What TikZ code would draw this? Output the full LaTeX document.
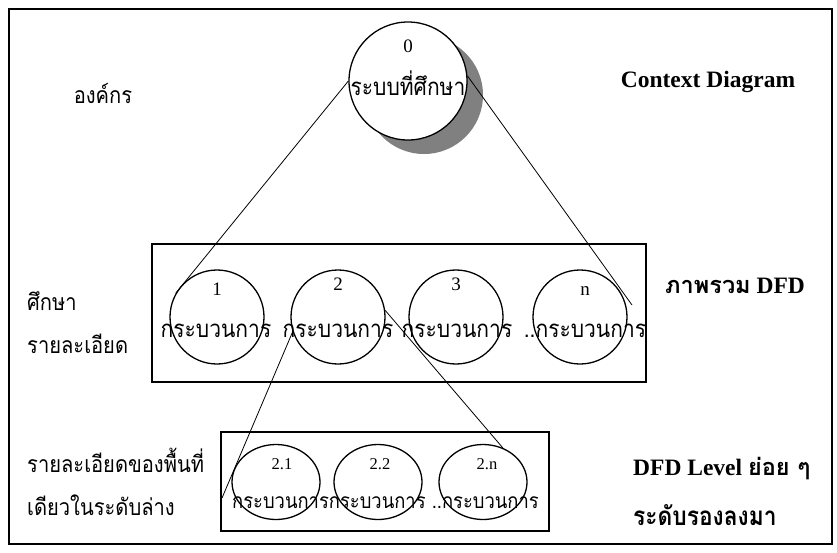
\documentclass[tikz,border=0pt]{standalone}
\usepackage{fontspec}
\setmainfont{Liberation Serif}
\newfontfamily\thai[Script=Thai, FakeStretch=0.875]{Loma}
\newfontfamily\thaiwide[Script=Thai]{Loma}
\usetikzlibrary{shapes.geometric,calc}
\definecolor{shade}{RGB}{128,128,128}
\begin{document}
\begin{tikzpicture}[x=1pt,y=-1pt,
  frame/.style={draw, line width=1.8pt},
  box/.style={draw, line width=1.6pt, inner sep=0pt},
  proc/.style={circle, draw, line width=1.3pt, minimum size=94pt, inner sep=0pt},
  sub/.style={ellipse, draw, line width=1.3pt, minimum width=88pt, minimum height=75pt, inner sep=0pt},
  link/.style={line width=0.8pt},
  num/.style={anchor=base, inner sep=0pt, font=\fontsize{19}{21}\selectfont},
  subnum/.style={anchor=base, inner sep=0pt, font=\fontsize{16.5}{18}\selectfont},
  thlabel/.style={anchor=base, inner sep=0pt, font=\thai\fontsize{24}{27}\selectfont},
  sidelabel/.style={anchor=base west, inner sep=0pt, font=\thai\fontsize{23}{26}\selectfont},
  title/.style={anchor=base west, inner sep=0pt, font=\bfseries\fontsize{23.5}{26}\selectfont},
]
\path[use as bounding box] (0,0) rectangle (837,552);
\draw[frame] (9,9) rectangle (832,544);

% context level: the system as one process, with its drop shadow
\node[circle, fill=shade, minimum size=118pt, inner sep=0pt] (shadow) at (424,95) {};
\node[circle, draw, fill=white, line width=1.3pt, minimum size=118pt, inner sep=0pt] (c0) at (408,81) {};
\node[num] (n0) at (408,52) {0};
\node[thlabel] (t0) at (408,95) {ระบบที่ศึกษา};

\node[sidelabel, anchor=base] (org) at (103,103) {องค์กร};
\node[title, anchor=base] (ctx) at (708,87) {Context Diagram};

% overview DFD
\node[box, minimum width=494pt, minimum height=138pt] (overview) at (399,313) {};
\node[proc] (c1) at (217,317) {};
\node[proc] (c2) at (338,317) {};
\node[proc] (c3) at (456,317) {};
\node[proc] (cn) at (580,317) {};
\node[num] (n1) at (217,295) {1};
\node[num] (n2) at (338,290) {2};
\node[num] (n3) at (456,290) {3};
\node[num] (nn) at (585,295) {n};
\node[thlabel] (t1) at (216,337) {กระบวนการ};
\node[thlabel] (t2) at (338,337) {กระบวนการ};
\node[thlabel] (t3) at (457,337) {กระบวนการ};
\node[thlabel] (tn) at (585,337) {..กระบวนการ};

\node[sidelabel] (study) at (27,310) {ศึกษา};
\node[sidelabel] (detail) at (27,353) {รายละเอียด};
\node[title] (ovl) at (665,293) {{\thaiwide ภาพรวม} DFD};

% lower level DFD
\node[box, minimum width=328pt, minimum height=99pt] (lower) at (385,481.5) {};
\node[sub] (e1) at (276,482) {};
\node[sub] (e2) at (378,482) {};
\node[sub] (e3) at (483,482) {};
\node[subnum] (m1) at (282,469) {2.1};
\node[subnum] (m2) at (380,469) {2.2};
\node[subnum] (m3) at (487,469) {2.n};
\node[anchor=base west, inner sep=0pt, font=\thai\fontsize{21}{24}\selectfont] (tl) at (232,508) {กระบวนการกระบวนการ ..กระบวนการ};

\node[sidelabel] (low1) at (27,472) {รายละเอียดของพื้นที่};
\node[sidelabel] (low2) at (27,515) {เดียวในระดับล่าง};
\node[title] (lvl) at (633,475) {DFD Level {\thaiwide ย่อย ๆ}};
\node[title, font=\thai\bfseries\fontsize{26}{29}\selectfont] (lvl2) at (633,525) {ระดับรองลงมา};

% decomposition lines
\coordinate (nEnd) at (632,305);
\coordinate (subIn) at (222,498);
\draw[link] (c0.west) -- (c1.150);
\draw[link] (c0.5) -- (nEnd);
\draw[link] (c2.198) -- (subIn);
\draw[link] (c2.8) -- (e3.60);
\end{tikzpicture}
\end{document}
